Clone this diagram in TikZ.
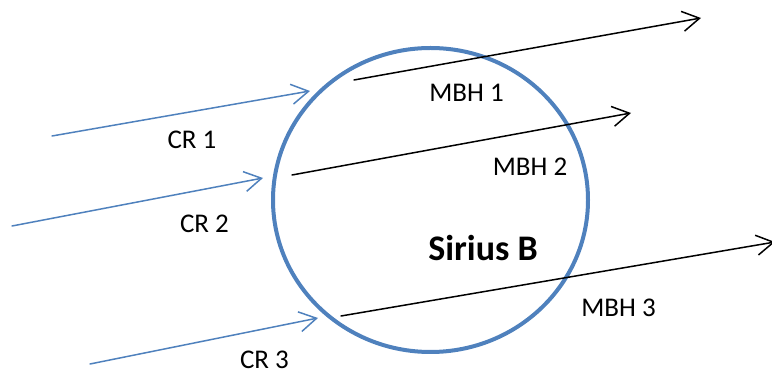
\documentclass[tikz,border=0pt]{standalone}
\usepackage{fontspec}
\setmainfont{Carlito}
\usetikzlibrary{arrows.meta}
\definecolor{rayblue}{RGB}{79,129,189}
\begin{document}
\begin{tikzpicture}[x=1pt,y=1pt,line join=round,line cap=round,
	>={Straight Barb[length=17pt,width=20pt,line width=1.5pt]},
	lbl/.style={anchor=base,inner sep=0pt,font=\fontsize{27}{32}\selectfont},
	cr/.style={->,rayblue,line width=1.5pt},
	mbh/.style={->,black,line width=1.5pt}]
	\clip (0,0) rectangle (772,372);
	\useasboundingbox (0,0) rectangle (772,372);
	%Sirius B
	\draw[rayblue,line width=4pt] (430.5,172) ellipse [x radius=157.5,y radius=152];
	\node[lbl,font=\fontsize{36}{42}\selectfont\bfseries] (sirius) at (483,111) {Sirius B};
	%Cosmic rays
	\coordinate (cr1s) at (52,236);  \coordinate (cr1e) at (310,281);
	\coordinate (cr2s) at (12,146);  \coordinate (cr2e) at (263,194);
	\coordinate (cr3s) at (90,8);    \coordinate (cr3e) at (318,54);
	\draw[cr] (cr1s)--(cr1e);
	\draw[cr] (cr2s)--(cr2e);
	\draw[cr] (cr3s)--(cr3e);
	\node[lbl] (cr1) at (192,223) {CR 1};
	\node[lbl] (cr2) at (204.5,139) {CR 2};
	\node[lbl] (cr3) at (264.5,3) {CR 3};
	%MBH
	\coordinate (m1s) at (354,292);  \coordinate (m1e) at (701,354);
	\coordinate (m2s) at (292,197);  \coordinate (m2e) at (631,259);
	\coordinate (m3s) at (341,56);   \coordinate (m3e) at (775,130);
	\draw[mbh] (m1s)--(m1e);
	\draw[mbh] (m2s)--(m2e);
	\draw[mbh] (m3s)--(m3e);
	\node[lbl] (mbh1) at (466.5,270) {MBH 1};
	\node[lbl] (mbh2) at (530,196) {MBH 2};
	\node[lbl] (mbh3) at (618.5,55) {MBH 3};
\end{tikzpicture}
\end{document}
